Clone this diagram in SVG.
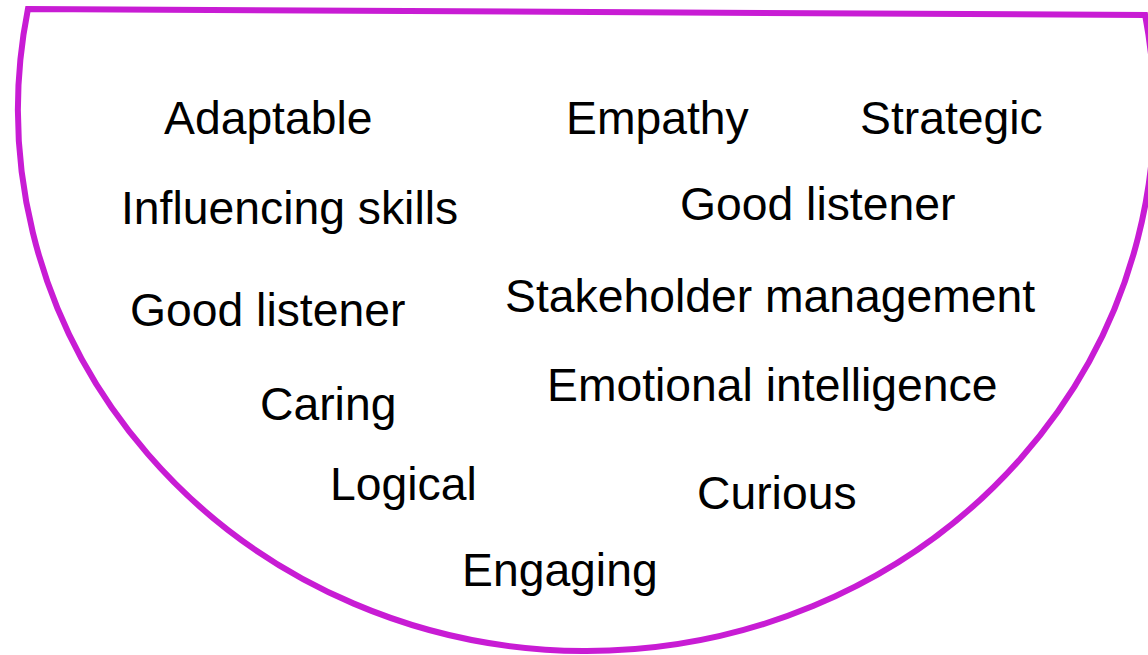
<svg xmlns="http://www.w3.org/2000/svg" width="1148" height="655" viewBox="0 0 1148 655">
  <style>
    .bowl { fill: #FFFFFF; stroke: #C81CD4; stroke-width: 6; }
    .label { font-family: "Liberation Sans", Arial, sans-serif; font-size: 46.3px; fill: #000000; }
  </style>
  <rect x="0" y="0" width="1148" height="655" fill="#FFFFFF"/>
  <!-- Half-ellipse bowl, flat edge on top, tilted very slightly -->
  <g id="bowl" transform="rotate(0.3 586 110)">
    <path class="bowl" d="M 27.4 12 L 1144.6 12 A 568 541 0 1 1 27.4 12 Z"/>
  </g>
  <g id="traits">
    <g id="t-adaptable"><text class="label" x="164" y="134">Adaptable</text></g>
    <g id="t-empathy"><text class="label" x="566" y="134">Empathy</text></g>
    <g id="t-strategic"><text class="label" x="860" y="134">Strategic</text></g>
    <g id="t-influencing"><text class="label" x="121" y="224">Influencing skills</text></g>
    <g id="t-listener-right"><text class="label" x="680" y="220">Good listener</text></g>
    <g id="t-stakeholder"><text class="label" x="505" y="312">Stakeholder management</text></g>
    <g id="t-listener-left"><text class="label" x="130" y="326">Good listener</text></g>
    <g id="t-emotional"><text class="label" x="547" y="401">Emotional intelligence</text></g>
    <g id="t-caring"><text class="label" x="260" y="420">Caring</text></g>
    <g id="t-logical"><text class="label" x="330" y="500">Logical</text></g>
    <g id="t-curious"><text class="label" x="697" y="509">Curious</text></g>
    <g id="t-engaging"><text class="label" x="462" y="586">Engaging</text></g>
  </g>
</svg>
